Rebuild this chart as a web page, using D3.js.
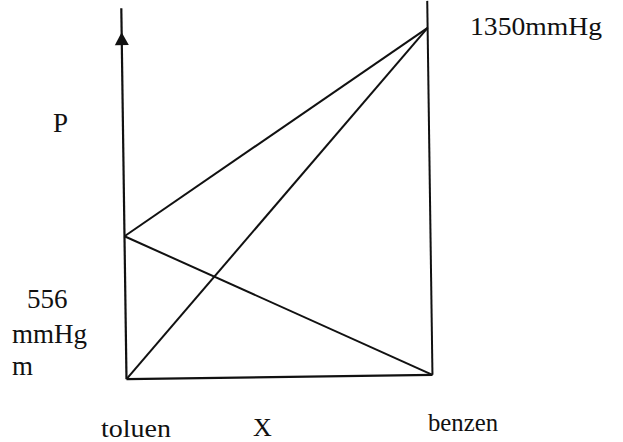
<!DOCTYPE html>
<html>
<head>
<meta charset="utf-8">
<script src="https://cdn.jsdelivr.net/npm/d3@7"></script>
<style>
  body { margin: 0; background: #fff; }
</style>
</head>
<body>
<div id="my_dataviz"></div>
<script>
// data: vapour pressures of the pure components (mmHg)
var components = ["toluen", "benzen"];
var xFraction = [0, 1];            // mole fraction of benzen
var pureP = [556, 1350];           // P of pure toluen, pure benzen
// partial pressure lines and total pressure line
var partialToluen = [556, 0];
var partialBenzen = [0, 1350];
var totalP = [556, 1350];

var width = 623, height = 442;

var svg = d3.select("#my_dataviz")
  .append("svg")
    .attr("width", width)
    .attr("height", height);

// scales
var x = d3.scaleLinear().domain([0, 1]).range([124, 430]);
var y = d3.scaleLinear().domain([0, 1350]).range([377, 30]);

// the scanned figure is slightly rotated
var g = svg.append("g")
  .attr("transform", "rotate(-0.8, 277, 200)");

var ink = "#111";

// vertical borders (extend above the plot)
g.append("line")
  .attr("x1", x(0)).attr("x2", x(0))
  .attr("y1", y(0)).attr("y2", 6)
  .style("stroke", ink).style("stroke-width", 2.2);
g.append("line")
  .attr("x1", x(1)).attr("x2", x(1))
  .attr("y1", y(0)).attr("y2", 3)
  .style("stroke", ink).style("stroke-width", 2);
// bottom line
g.append("line")
  .attr("x1", x(0)).attr("x2", x(1))
  .attr("y1", y(0)).attr("y2", y(0))
  .style("stroke", ink).style("stroke-width", 2.2);

// arrow head on the P axis
var tipY = 30;
g.append("path")
  .attr("d", "M" + x(0) + "," + tipY + "L" + (x(0) - 7) + "," + (tipY + 13) +
             "L" + (x(0) + 7) + "," + (tipY + 13) + "Z")
  .style("fill", ink);

// pressure lines
var line = d3.line()
  .x(function(d) { return x(d[0]); })
  .y(function(d) { return y(d[1]); });

[partialToluen, partialBenzen, totalP].forEach(function(s) {
  g.append("path")
    .datum(xFraction.map(function(v, i) { return [v, s[i]]; }))
    .attr("d", line)
    .style("fill", "none")
    .style("stroke", ink)
    .style("stroke-width", 2);
});

// labels
var labels = [
  {t: pureP[1] + "mmHg", x: 470, y: 35, size: 26, len: 132},
  {t: "P", x: 53, y: 132, size: 27},
  {t: String(pureP[0]), x: 27, y: 308, size: 27},
  {t: "mmHg", x: 12, y: 343, size: 27},
  {t: "m", x: 12, y: 375, size: 27},
  {t: components[0], x: 101, y: 437, size: 26, len: 70},
  {t: "X", x: 253, y: 436, size: 26},
  {t: components[1], x: 428, y: 431, size: 26, len: 70}
];

svg.selectAll("text.lbl")
  .data(labels)
  .join("text")
    .attr("class", "lbl")
    .attr("x", function(d) { return d.x; })
    .attr("y", function(d) { return d.y; })
    .attr("font-family", "'Liberation Serif', 'DejaVu Serif', serif")
    .attr("font-size", function(d) { return d.size; })
    .attr("fill", "#111")
    .attr("textLength", function(d) { return d.len ? d.len : null; })
    .attr("lengthAdjust", "spacingAndGlyphs")
    .text(function(d) { return d.t; });
</script>
</body>
</html>
